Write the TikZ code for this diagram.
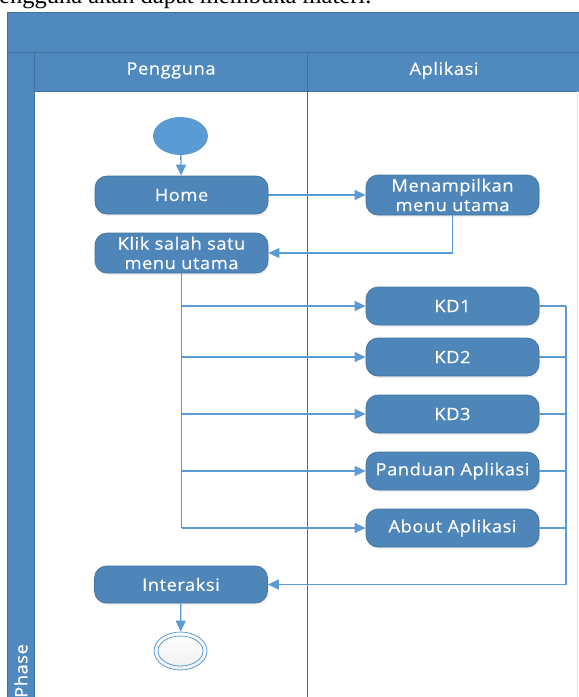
\documentclass[tikz,border=0pt]{standalone}
\usepackage{fontspec}
\usetikzlibrary{arrows.meta,shapes.geometric,shadows,calc}
\newfontfamily\uifont[FakeStretch=1.08,LetterSpace=3,FakeBold=0.4]{Open Sans}
\newfontfamily\serifpart{Liberation Serif}
\definecolor{boxfill}{HTML}{4E86BA}
\definecolor{boxline}{HTML}{41719C}
\definecolor{conn}{HTML}{5B9BD5}
\definecolor{hdr}{HTML}{5089BD}
\tikzset{
  act/.style={rectangle, rounded corners=12pt, fill=boxfill, draw=boxline, line width=0.7pt,
    minimum width=173pt, minimum height=38pt, inner sep=0pt, align=center, text=white,
    font=\uifont\fontsize{17}{19.5}\selectfont,
    drop shadow={opacity=0.12, shadow xshift=1pt, shadow yshift=-2pt}},
  flow/.style={draw=conn, line width=1.3pt, -{Triangle[length=11pt,width=10pt]}},
  flowline/.style={draw=conn, line width=1.3pt},
  lanetxt/.style={text=white, font=\uifont\fontsize{17}{19}\selectfont, inner sep=0pt},
  laneline/.style={draw=boxline, line width=1pt}
}
\begin{document}
\begin{tikzpicture}[x=1pt,y=-1pt]
\useasboundingbox (0,0) rectangle (579,697);
\clip (0,0) rectangle (579,697);
% caption text cut off at the top
\node[anchor=base west, inner sep=0pt, font=\serifpart\fontsize{24.5}{27}\selectfont] (cap) at (-1,3.5) {engguna akan dapat membuka materi.};
% swimlane frame
\fill[hdr] (7,12.5) rectangle (600,52);
\fill[hdr] (34,52) rectangle (600,91);
\fill[hdr] (7,52) rectangle (34,710);
\draw[laneline] (7,710) -- (7,12.5) -- (600,12.5);
\draw[laneline] (7,52) -- (600,52);
\draw[laneline] (34,52) -- (34,710);
\draw[laneline] (34,91) -- (600,91);
\draw[laneline] (307,52) -- (307,710);
\draw[black!12, line width=1.5pt] (577.5,91) -- (577.5,710);
\node[lanetxt] (lp) at (171,70.5) {Pengguna};
\node[lanetxt] (la) at (444,70.5) {Aplikasi};
\node[lanetxt, rotate=90, anchor=west] (ph) at (21,698) {Phase};
% start / end
\node[ellipse, fill=conn, minimum width=55pt, minimum height=38pt, inner sep=0pt] (start) at (180.5,136) {};
\node[ellipse, draw=conn, line width=0.8pt, top color=white, bottom color=black!6, minimum width=53pt, minimum height=38pt, inner sep=0pt] (end) at (180.5,651) {};
\node[ellipse, draw=conn, line width=0.8pt, minimum width=45pt, minimum height=30pt, inner sep=0pt] (endin) at (180.5,651) {};
% activities
\node[act] (home) at (181.5,195) {Home};
\node[act, minimum height=40pt] (klik) at (181.5,253) {Klik salah satu\\menu utama};
\node[act, minimum height=40pt] (menu) at (452.5,195) {Menampilkan\\menu utama};
\node[act] (kd1) at (452.5,306) {KD1};
\node[act] (kd2) at (452.5,357) {KD2};
\node[act] (kd3) at (452.5,414) {KD3};
\node[act] (pand) at (452.5,471) {Panduan Aplikasi};
\node[act] (about) at (452.5,528) {About Aplikasi};
\node[act, minimum height=37pt] (inter) at (181,584.5) {Interaksi};
% connectors
\draw[flow] (start) -- (home);
\draw[flow] (home) -- (menu);
\draw[flow] (menu.south) |- (klik.east);
\draw[flowline] (klik.south) -- (klik.south |- about.west);
\foreach \t in {kd1,kd2,kd3,pand,about}{
  \draw[flow] (klik.south |- \t.west) -- (\t.west);
}
\coordinate (rv) at (566,584.5);
\foreach \t in {kd1,kd2,kd3,pand,about}{
  \draw[flowline] (\t.east) -- (rv |- \t.east);
}
\draw[flowline] (rv |- kd1.east) -- (rv);
\draw[flow] (rv) -- (inter.east);
\draw[flow] (inter) -- (end);
\end{tikzpicture}
\end{document}
